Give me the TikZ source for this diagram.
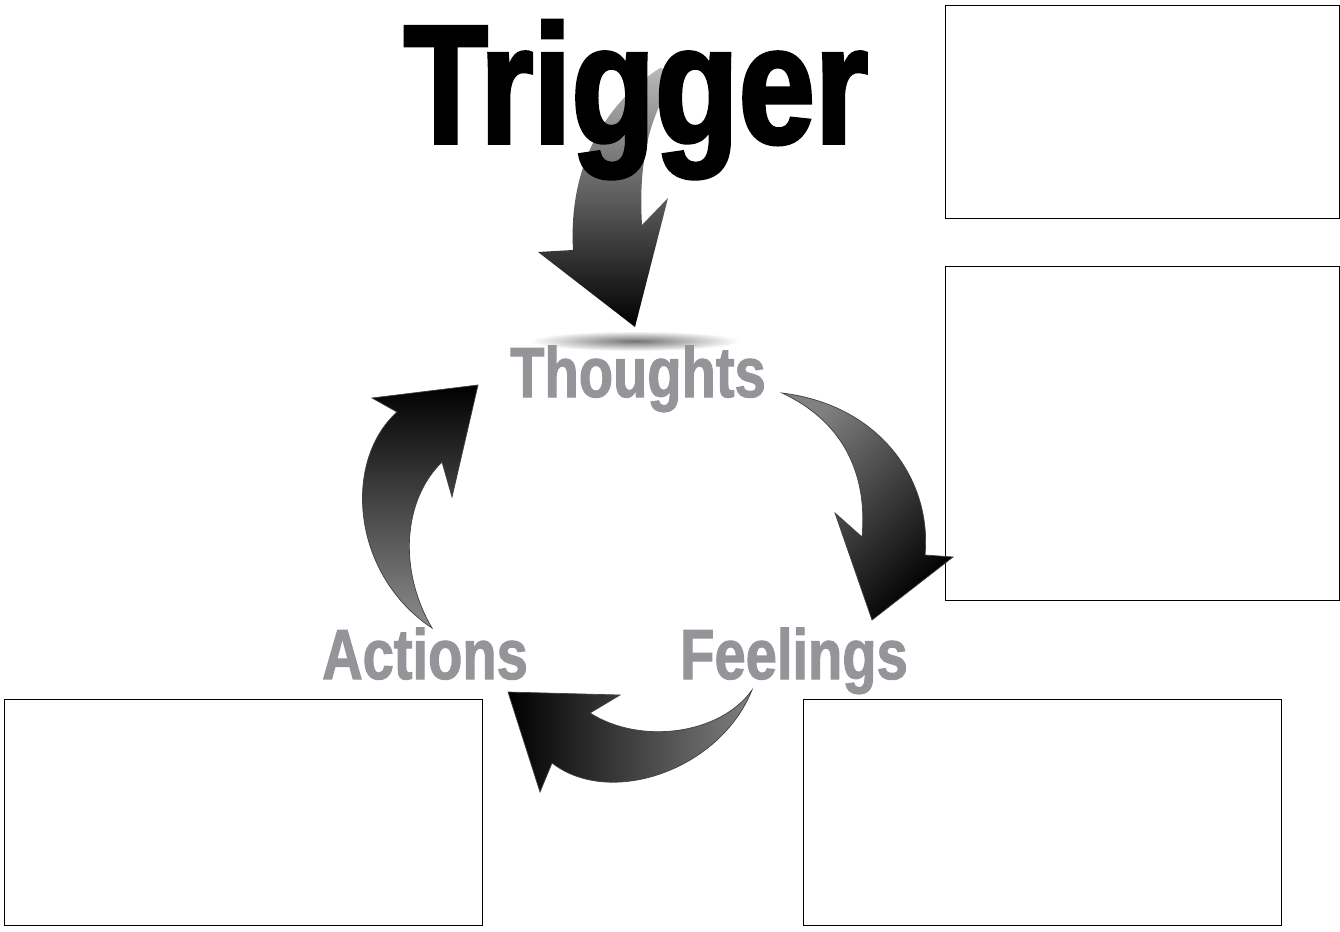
\documentclass[tikz,border=0pt]{standalone}
\usepackage{fontspec}
\newfontfamily\condblack[FakeStretch=0.79,FakeBold=1.5]{Liberation Sans Bold}
\newfontfamily\titleblack[FakeStretch=0.81,FakeBold=2.2]{Liberation Sans Bold}
\definecolor{lblgray}{RGB}{147,149,152}
\tikzset{
  note/.style  ={draw,line width=0.8pt,inner sep=0pt},
  stage/.style ={anchor=base,inner sep=0pt,text=lblgray,
                 font=\condblack\fontsize{71}{71}\selectfont},
  title/.style ={anchor=base,inner sep=0pt,
                 font=\titleblack\fontsize{169}{169}\selectfont},
  curl/.style  ={draw=black!75,line width=0.7pt,line join=miter},
}

\begin{document}
\begin{tikzpicture}[x=1pt,y=-1pt]
\useasboundingbox (0,0) rectangle (1340,931);
% note boxes
\node[note,anchor=north west,minimum width=394pt,minimum height=213pt] (N1) at (945,5) {};
\node[note,anchor=north west,minimum width=394pt,minimum height=334pt] (N2) at (945,266) {};
\node[note,anchor=north west,minimum width=478pt,minimum height=226pt] (N3) at (4,699) {};
\node[note,anchor=north west,minimum width=478pt,minimum height=226pt] (N4) at (803,699) {};
% shadow under the trigger arrow
\shade[inner color=black!55,outer color=white] (635,341) ellipse (105 and 10);
% trigger arrow
\path[top color=gray!55,middle color=black!85,bottom color=black]
  (660,68) .. controls (610,100) and (568,160) .. (573,250) -- (538,252) -- (635,327)
  -- (668,198) -- (642,225) .. controls (638,160) and (650,110) .. (680,72) -- cycle;
% cycle arrows
\path[curl,top color=black!50,bottom color=black,shading angle=45]
  (782,393) .. controls (880,405) and (932,480) .. (925,555) -- (953,557) -- (872,620)
  -- (835,513) -- (862,537) .. controls (868,470) and (840,420) .. cycle;
\path[curl,left color=black,right color=black!50]
  (752,690) .. controls (720,770) and (610,808) .. (552,763) -- (540,792) -- (508,692)
  -- (620,695) -- (590,713) .. controls (640,745) and (720,735) .. cycle;
\path[curl,top color=black,bottom color=black!45]
  (432,628) .. controls (352,575) and (342,462) .. (397,412) -- (372,398) -- (478,385)
  -- (452,497) -- (442,462) .. controls (403,500) and (398,570) .. cycle;
% labels
\node[title] (TR) at (636,143) {Trigger};
\node[stage] (TH) at (638,397) {Thoughts};
\node[stage] (AC) at (425,679) {Actions};
\node[stage] (FE) at (794,679) {Feelings};
\end{tikzpicture}
\end{document}
